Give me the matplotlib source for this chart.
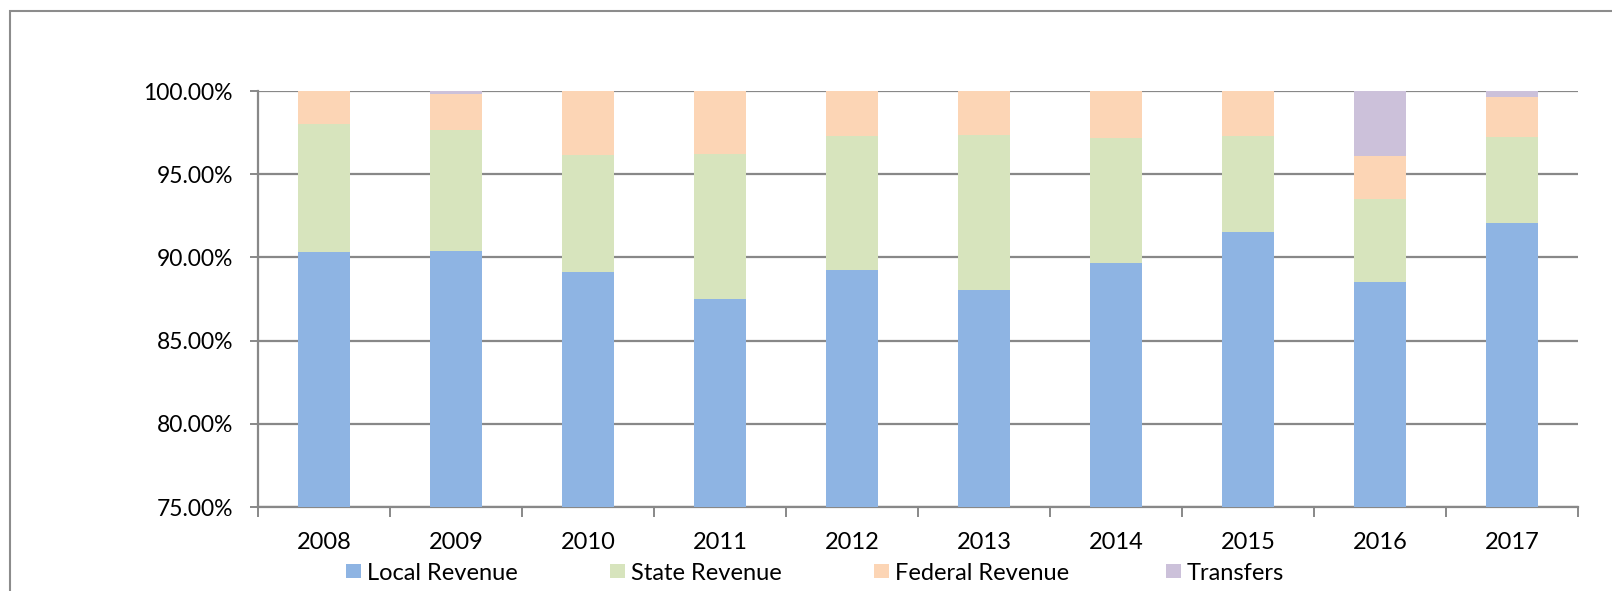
import matplotlib
matplotlib.use("Agg")
import matplotlib.pyplot as plt
from matplotlib.patches import Rectangle
from matplotlib.ticker import FuncFormatter
import numpy as np

years = ["2008", "2009", "2010", "2011", "2012", "2013", "2014", "2015", "2016", "2017"]
local_rev = [90.32, 90.41, 89.14, 87.53, 89.26, 88.03, 89.64, 91.55, 88.55, 92.07]
state_rev = [7.71, 7.26, 7.01, 8.66, 8.02, 9.32, 7.53, 5.73, 4.97, 5.16]
federal_rev = [1.97, 2.17, 3.85, 3.81, 2.72, 2.65, 2.83, 2.72, 2.56, 2.43]
transfers = [0.00, 0.16, 0.00, 0.00, 0.00, 0.00, 0.00, 0.00, 3.92, 0.34]

series_names = ["Local Revenue", "State Revenue", "Federal Revenue", "Transfers"]
series_vals = [local_rev, state_rev, federal_rev, transfers]
series_cols = ["#8EB4E3", "#D7E4BD", "#FCD5B5", "#CCC1DA"]

plt.rcParams['font.family'] = ['Lato', 'DejaVu Sans']

W, H = 1612, 591
fig = plt.figure(figsize=(W / 100, H / 100), dpi=100)
ax = fig.add_axes([258 / W, (H - 507) / H, (1578 - 258) / W, (507 - 91) / H])

x = np.arange(len(years))
bottom = np.zeros(len(years))
for name, vals, col in zip(series_names, series_vals, series_cols):
    v = np.array(vals)
    ax.bar(x, v, 0.4, bottom=bottom, color=col, edgecolor="none", zorder=3, label=name)
    bottom += v

ax.set_xlim(-0.5, len(years) - 0.5)
ax.set_ylim(75, 100)
ax.set_yticks([75, 80, 85, 90, 95, 100])
ax.yaxis.set_major_formatter(FuncFormatter(lambda v, p: f"{v:.2f}%"))
ax.set_xticks(x)
ax.set_xticklabels(years)
ax.set_xticks(np.arange(-0.5, len(years)), minor=True)

grid_c = "#888888"
ax.yaxis.grid(True, color=grid_c, linewidth=1.6, zorder=0)
ax.set_axisbelow(True)
for s in ["top", "right"]:
    ax.spines[s].set_visible(False)
for s in ["left", "bottom"]:
    ax.spines[s].set_color(grid_c)
    ax.spines[s].set_linewidth(1.6)

ax.tick_params(axis="x", which="major", length=0, pad=18, labelsize=17)
ax.tick_params(axis="x", which="minor", length=7, width=1.4, color=grid_c)
ax.tick_params(axis="y", which="major", length=6, width=1.4, color=grid_c, labelsize=16.5, pad=12)

# legend entries laid out like the source chart (figure pixel positions)
legend_x = [346, 610, 874, 1166]
for lx, name, col in zip(legend_x, series_names, series_cols):
    fig.patches.append(Rectangle((lx / W, (H - 578) / H), 15 / W, 14 / H,
                                 transform=fig.transFigure, facecolor=col, edgecolor="none"))
    fig.text((lx + 21) / W, (H - 571) / H, name, fontsize=17, ha="left", va="center_baseline")

fig.patches.append(Rectangle((10 / W, -0.1), 2.0, (H - 11) / H + 0.1,
                             transform=fig.transFigure, fill=False,
                             edgecolor="#8c8c8c", linewidth=1.5))

fig.savefig("out.png", dpi=100)
